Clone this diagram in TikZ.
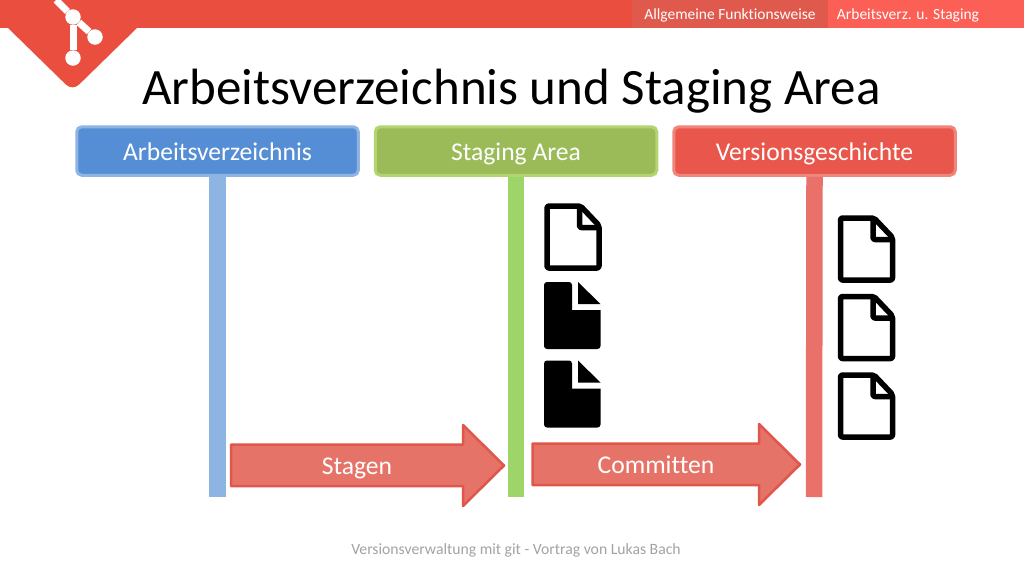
\documentclass[tikz,border=0pt]{standalone}
\usepackage{fontspec}
\setmainfont[Ligatures=NoCommon]{Carlito}
\definecolor{barred}{HTML}{E94E3F}
\definecolor{tabdark}{HTML}{E0594D}
\definecolor{tablight}{HTML}{FB5F55}
\definecolor{bluefill}{HTML}{558ED5}
\definecolor{blueedge}{HTML}{8EB4E3}
\definecolor{greenfill}{HTML}{9BBB59}
\definecolor{greenedge}{HTML}{B3D56F}
\definecolor{greenbar}{HTML}{9ED568}
\definecolor{redfill}{HTML}{E9564B}
\definecolor{rededge}{HTML}{F0857C}
\definecolor{redbar}{HTML}{E9716A}
\definecolor{arrowfill}{HTML}{E57368}
\definecolor{arrowedge}{HTML}{E0564A}
\definecolor{footgrey}{HTML}{A3A3A3}
\tikzset{
  x=1pt,y=-1pt,
  header/.style={draw=#1,rounded corners=5pt,line width=3pt,minimum width=281.5pt,minimum height=48.5pt,inner sep=0pt,text=white,text height=18pt,text depth=0pt,font=\fontsize{25.6}{28}\selectfont},
  lane/.style={line width=16.5pt,draw=#1},
  flow/.style={fill=arrowfill,draw=arrowedge,line width=2.5pt,line join=round},
  flowtext/.style={text=white,inner sep=0pt,anchor=base,font=\fontsize{25.6}{28}\selectfont},
  tabtext/.style={text=white,inner sep=0pt,font=\fontsize{15.5}{18}\selectfont},
  gitline/.style={draw=white,line width=7pt},
  gitdot/.style={circle,fill=white,inner sep=0pt,minimum size=15.5pt},
  pics/docopen/.style={code={
    \draw[black,line width=5.5pt,line join=round,rounded corners=2pt]
      (2.5,2.5) -- (36,2.5) -- (54.5,22) -- (54.5,64.5) -- (2.5,64.5) -- cycle;
    \draw[black,line width=5.5pt,line join=round,rounded corners=2pt] (35,2.5) -- (35,24) -- (54.5,24);
  }},
  pics/docfull/.style={code={
    \fill[black,rounded corners=3pt] (0,0) -- (28,0) [sharp corners] -- (28,28) -- (56.5,28) [rounded corners=3pt] -- (56.5,67) -- (0,67) -- cycle;
    \fill[black] (34,0) -- (56.5,22) -- (34,22) -- cycle;
  }}
}
\begin{document}
\begin{tikzpicture}
\useasboundingbox (0,0) rectangle (1024,576);
\fill[white] (0,0) rectangle (1024,576);
% top bar and logo
\fill[barred] (0,0) rectangle (1024,28);
\fill[barred] (7,27) [rounded corners=9pt] -- (72.5,91) [sharp corners] -- (138,27) -- cycle;
\fill[tabdark] (632,0) rectangle (828,28);
\fill[tablight] (828,0) rectangle (1024,28);
\node[gitdot] (gitTop) at (73,17) {};
\node[gitdot] (gitLeft) at (73,58) {};
\node[gitdot] (gitRight) at (95,37) {};
\coordinate (gitStart) at (56,0);
\draw[gitline] (gitStart) -- (gitTop);
\draw[gitline] (gitTop) -- (gitLeft);
\draw[gitline] (gitTop) -- (gitRight);
\node[tabtext] (tabA) at (730,15) {Allgemeine Funktionsweise};
\node[tabtext] (tabB) at (908,15) {Arbeitsverz. u. Staging};
% title
\node[inner sep=0pt,anchor=base,font=\fontsize{51}{56}\selectfont] (title) at (511.5,104) {Arbeitsverzeichnis und Staging Area};
% lanes
\coordinate (endA) at (217.5,497);
\coordinate (endB) at (516,497);
\coordinate (endC) at (814,497);
\node[header=blueedge,fill=bluefill] (hA) at (217.5,151) {Arbeitsverzeichnis};
\node[header=greenedge,fill=greenfill] (hB) at (516,151) {Staging Area};
\node[header=rededge,fill=redfill] (hC) at (814.5,151) {Versionsgeschichte};
\draw[lane=blueedge] (hA.south) -- (endA);
\draw[lane=greenbar] (hB.south) -- (endB);
\draw[lane=redbar] (hC.south) -- (endC);
% arrows
\draw[flow] (231,444.5) -- (463,444.5) -- (463,425) -- (504,465.5) -- (463,506) -- (463,486) -- (231,486) -- cycle;
\node[flowtext] (stagen) at (357,474) {Stagen};
\draw[flow] (532.5,443.5) -- (759,443.5) -- (759,424) -- (800,464.5) -- (759,505) -- (759,485) -- (532.5,485) -- cycle;
\node[flowtext] (committen) at (656,473) {Committen};
% documents
\pic at (544.5,203.5) {docopen};
\pic at (544,282) {docfull};
\pic at (544,360.5) {docfull};
\pic at (838,215.5) {docopen};
\pic at (838,294) {docopen};
\pic at (838,372.5) {docopen};
% footer
\node[inner sep=0pt,text=footgrey,font=\fontsize{15.7}{19}\selectfont] (foot) at (516,550) {Versionsverwaltung mit git - Vortrag von Lukas Bach};
\end{tikzpicture}
\end{document}
